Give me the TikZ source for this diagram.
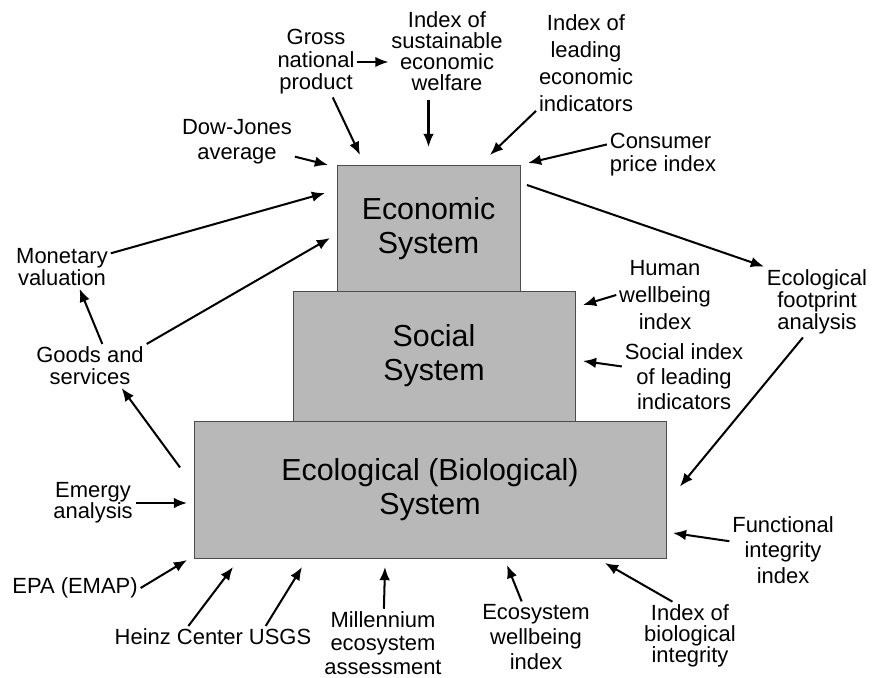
\documentclass[tikz,border=0pt]{standalone}
\usepackage{fontspec}
\setmainfont{Liberation Sans}
\usetikzlibrary{arrows.meta, calc, positioning}

\begin{document}
\begin{tikzpicture}[x=0.02cm, y=-0.02cm, >={Latex[length=7.5pt,width=6pt]}]
	\tikzstyle{sysbox} = [draw=black!70, fill=black!28, inner sep=0pt, outer sep=0pt, align=center, font=\fontsize{17.3}{19.5}\selectfont]
	\tikzstyle{link} = [->, line width=1.15pt]
	\tikzset{lbl/.style={align=center, inner sep=1.5pt, font=\fontsize{12.5}{#1}\selectfont}, lbl/.default=13}

	\useasboundingbox (0,0) rectangle (872,678);

	% the three systems
	\node[sysbox, minimum width=3.66cm, minimum height=2.56cm] (econ) at (428.5,229) {Economic\\System};
	\node[sysbox, minimum width=5.64cm, minimum height=2.6cm] (social) at (434,356) {Social\\System};
	\node[sysbox, minimum width=9.44cm, minimum height=2.74cm] (ecol) at (430,489.5) {Ecological (Biological)\\System};

	% indicators
	\node[lbl=12.8] (gross) at (316,62) {Gross\\national\\product};
	\node[lbl=12] (sust) at (447,51) {Index of\\sustainable\\economic\\welfare};
	\node[lbl=15.4] (leading) at (586,63) {Index of\\leading\\economic\\indicators};
	\node[lbl, align=left] (cons) at (663,155) {Consumer\\price index};
	\node[lbl=14.2] (dow) at (237,142) {Dow-Jones\\average};
	\node[lbl=11.5] (monetary) at (62,267) {Monetary\\valuation};
	\node[lbl=12.5] (goods) at (90,366) {Goods and\\services};
	\node[lbl=12] (emergy) at (93,503) {Emergy\\analysis};
	\node[lbl] (epa) at (75,588) {EPA (EMAP)};
	\node[lbl] (heinz) at (213,637) {Heinz Center USGS};
	\node[lbl=13.2] (mill) at (383,643) {Millennium\\ecosystem\\assessment};
	\node[lbl=14.2] (ecoswell) at (536,637) {Ecosystem\\wellbeing\\index};
	\node[lbl=12] (bioint) at (690,636) {Index of\\biological\\integrity};
	\node[lbl=14.5] (func) at (783,550) {Functional\\integrity\\index};
	\node[lbl=11.5] (footprint) at (817,302) {Ecological\\footprint\\analysis};
	\node[lbl=15.4] (human) at (665,295) {Human\\wellbeing\\index};
	\node[lbl=14.2] (socidx) at (684,377) {Social index\\of leading\\indicators};

	% economic side
	\draw[link] (gross.east) -- (gross.east -| sust.west);
	\draw[link] (gross) -- ($(econ.north west)+(23,-10)$);
	\draw[link] ($(sust.south -| econ.north)+(0,6)$) -- ($(econ.north)+(0,-18)$);
	\draw[link] (leading) -- ($(econ.north east)+(-30,-10)$);
	\draw[link] ([yshift=6pt]cons.west) -- ($(econ.north east)+(8,-2)$);
	\draw[link] (dow) -- ($(econ.north west)+(-9,0)$);
	\draw[link] (monetary) -- ($(econ.north west)+(-12,28)$);
	\draw[link] (goods.north east) -- ($(econ.west)+(-7,9)$);
	\draw[link] ([xshift=7pt]goods.north) -- ([xshift=10pt]monetary.south);
	\draw[link] ($(ecol.west)+(-14,-22)$) -- ([xshift=18pt]goods.south);
	\draw[link] ($(econ.north east)+(7,20)$) -- (footprint.north west);

	% social side
	\draw[link] (human.west) -- ($(social.north east)+(8,14)$);
	\draw[link] ([yshift=6pt]socidx.west) -- ($(social.east)+(8,5)$);

	% ecological side
	\draw[link, shorten >=4pt] (emergy.east) -- (emergy.east -| ecol.west);
	\draw[link] (epa.east) -- ($(ecol.south west)+(-7,2)$);
	\draw[link] ([xshift=-14pt]heinz.north) -- ($(ecol.south west)+(39,9)$);
	\draw[link] ([xshift=30pt]heinz.north) -- ($(ecol.south west)+(108,9)$);
	\draw[link] (mill) -- ($(ecol.south)+(-45,9)$);
	\draw[link] (ecoswell) -- ($(ecol.south)+(77,7)$);
	\draw[link] ([xshift=-10pt]bioint.north) -- ($(ecol.south east)+(-61,5)$);
	\draw[link] ([yshift=5pt]func.west) -- ($(ecol.south east)+(7,-25)$);
	\draw[link] ([xshift=-8pt]footprint.south) -- ($(ecol.east)+(14,-3)$);
\end{tikzpicture}
\end{document}
